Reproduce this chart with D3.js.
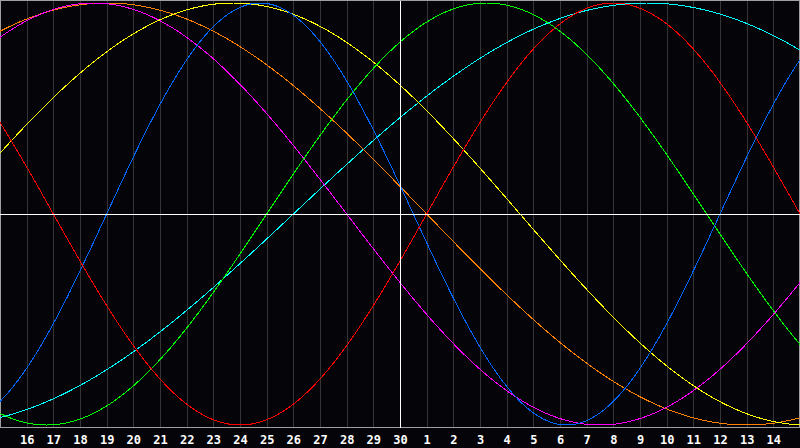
<!DOCTYPE html>
<html><head><meta charset="utf-8">
<script src="https://cdn.jsdelivr.net/npm/d3@7"></script>
<style>html,body{margin:0;padding:0;background:#050408;}svg{display:block;}</style>
</head><body>
<svg id="c" width="800" height="448"></svg>
<script>
// Day labels along the bottom (first visible day = 15, not labelled)
const dayLabels = ["16","17","18","19","20","21","22","23","24","25","26","27","28","29","30",
                   "1","2","3","4","5","6","7","8","9","10","11","12","13","14"];
// Biorhythm cycles
const cycleNames   = ["Physical","Emotional","Intellectual","Intuitive","Aesthetic","Awareness","Spiritual"];
const cyclePeriods = [23, 28, 33, 38, 43, 48, 53];
// days into each cycle on the first visible day (read from the zero crossings)
const cyclePhase   = [19, 12, 23, 6, 2, 8, 42];
const cycleColors  = ["#0066ff","#ff0000","#00ff00","#ff00ff","#ffff00","#ff8000","#00ffff"];
const drawOrder    = [6, 5, 3, 4, 2, 0, 1];
const spanDays = 30;

const W = 800, H = 448;
const svg = d3.select("#c");
svg.append("rect").attr("width", W).attr("height", H).attr("fill", "#050408");

const x = d3.scaleLinear().domain([0, spanDays]).range([0, 800]);
const y = d3.scaleLinear().domain([-1, 1]).range([425, 3]);
const plotBottom = 427.5;

// vertical grid
const g = svg.append("g").attr("shape-rendering", "crispEdges");
g.selectAll("line.grid").data(d3.range(1, spanDays)).join("line")
  .attr("x1", d => Math.round(x(d)) + 0.5).attr("x2", d => Math.round(x(d)) + 0.5)
  .attr("y1", 1).attr("y2", plotBottom)
  .attr("stroke", "#353535").attr("stroke-width", 1);

// frame
svg.append("rect").attr("x", 0.5).attr("y", 0.5).attr("width", 799).attr("height", plotBottom - 0.5)
  .attr("fill", "none").attr("stroke", "#a0a0a0").attr("shape-rendering", "crispEdges");

// curves
const line = d3.line().x(d => x(d[0])).y(d => y(d[1])).curve(d3.curveLinear);
const steps = d3.range(0, spanDays + 0.0001, 0.02);
const curves = svg.append("g");
drawOrder.forEach(i => {
  const pts = steps.map(t => [t, Math.sin(2 * Math.PI * (cyclePhase[i] + t) / cyclePeriods[i])]);
  curves.append("path").datum(pts).attr("d", line)
    .attr("fill", "none").attr("stroke", cycleColors[i]).attr("stroke-width", 1)
    .attr("shape-rendering", "crispEdges");
});

// center axes (white)
svg.append("line").attr("x1", 0).attr("x2", 800).attr("y1", Math.round(y(0)) + 0.5).attr("y2", Math.round(y(0)) + 0.5)
  .attr("stroke", "#ffffff").attr("shape-rendering", "crispEdges");
svg.append("line").attr("x1", Math.round(x(15)) + 0.5).attr("x2", Math.round(x(15)) + 0.5).attr("y1", 1).attr("y2", plotBottom)
  .attr("stroke", "#ffffff").attr("shape-rendering", "crispEdges");

// axis labels
const xAxis = d3.axisBottom(x).tickValues(d3.range(1, spanDays)).tickSize(0).tickPadding(0)
  .tickFormat((d, i) => dayLabels[i]);
const ax = svg.append("g").attr("transform", "translate(0,444)").call(xAxis);
ax.select(".domain").remove();
ax.selectAll("text").attr("fill", "#ffffff").attr("dy", "0").attr("y", 0)
  .style("font-family", "'DejaVu Sans Mono', monospace").style("font-weight", "bold").style("font-size", "12px");
</script>
</body></html>
